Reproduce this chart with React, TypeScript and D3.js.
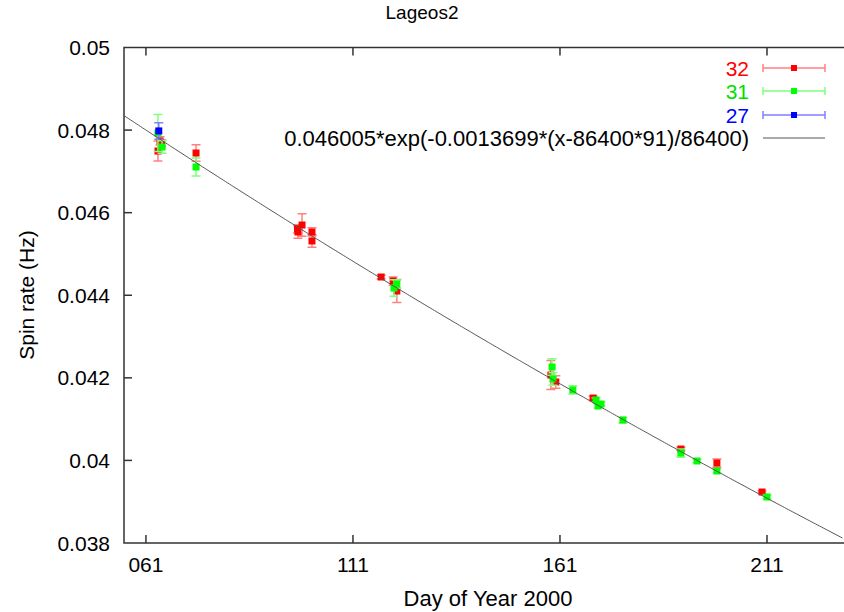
import React, { useRef, useEffect } from 'react';
import * as d3 from 'd3';

// Day of year 2000 and spin rate (Hz) with half error bars, per station
const daysRed = [63.9, 64.4, 64.8, 73.1, 97.7, 98.7, 97.6, 101.1, 101.1, 117.8, 120.7, 121.6, 158.8, 160.0, 169.0, 190.2, 198.9, 209.8];
const rateRed = [0.047493, 0.047736, 0.04768, 0.047445, 0.045532, 0.045701, 0.04561, 0.045532, 0.045314, 0.044442, 0.044345, 0.044103, 0.042068, 0.041899, 0.041511, 0.040276, 0.039937, 0.039235];
const errRed = [0.00024, 0.0001, 0.00008, 0.0002, 0.00015, 0.00027, 0.0001, 0.0001, 0.00015, 0.00005, 0.0001, 0.00028, 0.00035, 0.00015, 0.00005, 0.00004, 0.0001, 0.00003];

const daysGreen = [63.9, 64.9, 73.1, 120.9, 121.6, 159.1, 159.3, 164.1, 169.7, 170.2, 170.9, 176.2, 190.2, 194.1, 198.9, 211.0];
const rateGreen = [0.047929, 0.04759, 0.047106, 0.044175, 0.044272, 0.042262, 0.041972, 0.041706, 0.041463, 0.041317, 0.041366, 0.040978, 0.040179, 0.039986, 0.039744, 0.039114];
const errGreen = [0.00045, 0.00015, 0.00022, 0.0002, 0.0001, 0.0002, 0.00015, 0.0001, 0.00005, 0.00005, 0.00004, 0.00007, 0.0001, 0.00004, 0.00005, 0.00005];

const daysBlue = [64.1];
const rateBlue = [0.04798];
const errBlue = [0.0002];

const seriesNames = ['32', '31', '27'];
const seriesColors = ['#ff0000', '#00ff00', '#0000ff'];
const barColors = ['#ff8080', '#80ff80', '#8080ff'];
const textColors = ['#ff0000', '#00e000', '#0000ff'];

const xTicks = [61, 111, 161, 211];
const yTicks = [0.038, 0.04, 0.042, 0.044, 0.046, 0.048, 0.05];

// fitted curve from the legend: a*exp(b*(x-86400*91)/86400), x in seconds since Jan 1
const fitA = 0.046005;
const fitB = -0.0013699;
const fitLabel = '0.046005*exp(-0.0013699*(x-86400*91)/86400)';

const App = () => {
  const ref = useRef(null);

  useEffect(() => {
    if (!ref.current) return;
    const W = 844, H = 612;
    const left = 124, top = 47.5, right = 844, bottom = 543;
    const font = '"Liberation Sans", Arial, sans-serif';

    const svg = d3.select(ref.current);
    svg.selectAll('*').remove();

    const x = d3.scaleLinear().domain([55.7, 229.6]).range([left, right]);
    const y = d3.scaleLinear().domain([0.038, 0.05]).range([bottom, top]);

    svg.append('rect').attr('width', W).attr('height', H).attr('fill', 'white');

    svg.append('defs').append('clipPath').attr('id', 'plotclip')
      .append('rect').attr('x', left).attr('y', top).attr('width', right - left).attr('height', bottom - top);

    // title
    svg.append('text')
      .attr('x', 422).attr('y', 19)
      .attr('text-anchor', 'middle')
      .attr('font-family', font).attr('font-size', 19)
      .text('Lageos2');

    // border (left, top, bottom)
    const axisCol = '#333';
    svg.append('path')
      .attr('d', `M${right},${top}H${left}V${bottom}H${right}`)
      .attr('fill', 'none').attr('stroke', axisCol).attr('stroke-width', 1.5);

    // y ticks
    const tl = 8;
    yTicks.forEach(v => {
      const yy = y(v);
      if (v > 0.038 && v < 0.05) {
        svg.append('line').attr('x1', left).attr('x2', left + tl).attr('y1', yy).attr('y2', yy)
          .attr('stroke', axisCol).attr('stroke-width', 1.5);
      }
      svg.append('text')
        .attr('x', 110).attr('y', yy)
        .attr('dy', '0.36em')
        .attr('text-anchor', 'end')
        .attr('font-family', font).attr('font-size', 21)
        .text(String(+v.toFixed(3)));
    });

    // x ticks (bottom and mirrored top)
    xTicks.forEach(d => {
      const xx = x(d);
      svg.append('line').attr('x1', xx).attr('x2', xx).attr('y1', bottom).attr('y2', bottom - tl)
        .attr('stroke', axisCol).attr('stroke-width', 1.5);
      svg.append('line').attr('x1', xx).attr('x2', xx).attr('y1', top).attr('y2', top + tl)
        .attr('stroke', axisCol).attr('stroke-width', 1.5);
      svg.append('text')
        .attr('x', xx).attr('y', 572)
        .attr('text-anchor', 'middle')
        .attr('font-family', font).attr('font-size', 21)
        .text(d3.format('03d')(d));
    });

    // axis labels
    svg.append('text')
      .attr('x', 488).attr('y', 606)
      .attr('text-anchor', 'middle')
      .attr('font-family', font).attr('font-size', 22)
      .text('Day of Year 2000');

    svg.append('text')
      .attr('transform', 'translate(34,295) rotate(-90)')
      .attr('text-anchor', 'middle')
      .attr('font-family', font).attr('font-size', 21)
      .text('Spin rate (Hz)');

    const plot = svg.append('g').attr('clip-path', 'url(#plotclip)');

    const series = [
      { days: daysRed, rate: rateRed, err: errRed },
      { days: daysGreen, rate: rateGreen, err: errGreen },
      { days: daysBlue, rate: rateBlue, err: errBlue },
    ];
    const cap = 4.5;
    const ms = 7;

    series.forEach((s, si) => {
      const pts = s.days.map((d, i) => ({ d, v: s.rate[i], e: s.err[i] }));
      const g = plot.append('g');
      pts.forEach(p => {
        const xx = x(p.d), y1 = y(p.v + p.e), y2 = y(p.v - p.e);
        g.append('path')
          .attr('d', `M${xx},${y1}V${y2}M${xx - cap},${y1}H${xx + cap}M${xx - cap},${y2}H${xx + cap}`)
          .attr('fill', 'none').attr('stroke', barColors[si]).attr('stroke-width', 1.5);
      });
      g.selectAll('rect.pt').data(pts).enter().append('rect')
        .attr('x', p => x(p.d) - ms / 2).attr('y', p => y(p.v) - ms / 2)
        .attr('width', ms).attr('height', ms)
        .attr('fill', seriesColors[si]);
    });

    // fitted curve
    const fitDays = d3.range(55.7, 229.7, 0.5);
    const fit = (d: number) => fitA * Math.exp(fitB * (d - 1 - 91));
    plot.append('path')
      .datum(fitDays)
      .attr('d', d3.line<number>().x(d => x(d)).y(d => y(fit(d))))
      .attr('fill', 'none').attr('stroke', '#555').attr('stroke-width', 1);

    // legend
    const lx = 749, s0 = 763, s1 = 825, rowY = [68, 91, 115, 138];
    seriesNames.forEach((name, i) => {
      const yy = rowY[i];
      svg.append('text')
        .attr('x', lx).attr('y', yy).attr('dy', '0.36em')
        .attr('text-anchor', 'end')
        .attr('font-family', font).attr('font-size', 21)
        .attr('fill', textColors[i])
        .text(name);
      svg.append('path')
        .attr('d', `M${s0},${yy}H${s1}M${s0},${yy - 4}V${yy + 4}M${s1},${yy - 4}V${yy + 4}`)
        .attr('fill', 'none').attr('stroke', barColors[i]).attr('stroke-width', 1.5);
      svg.append('rect')
        .attr('x', (s0 + s1) / 2 - 3).attr('y', yy - 3).attr('width', 6).attr('height', 6)
        .attr('fill', seriesColors[i]);
    });
    svg.append('text')
      .attr('x', lx).attr('y', rowY[3]).attr('dy', '0.36em')
      .attr('text-anchor', 'end')
      .attr('font-family', font).attr('font-size', 22)
      .text(fitLabel);
    svg.append('line')
      .attr('x1', s0).attr('x2', s1).attr('y1', rowY[3]).attr('y2', rowY[3])
      .attr('stroke', '#555').attr('stroke-width', 1);
  }, []);

  return (
    <svg
      ref={ref}
      width={844}
      height={612}
      style={{ position: 'absolute', left: 0, top: 0, display: 'block' }}
    />
  );
};

export default App;
